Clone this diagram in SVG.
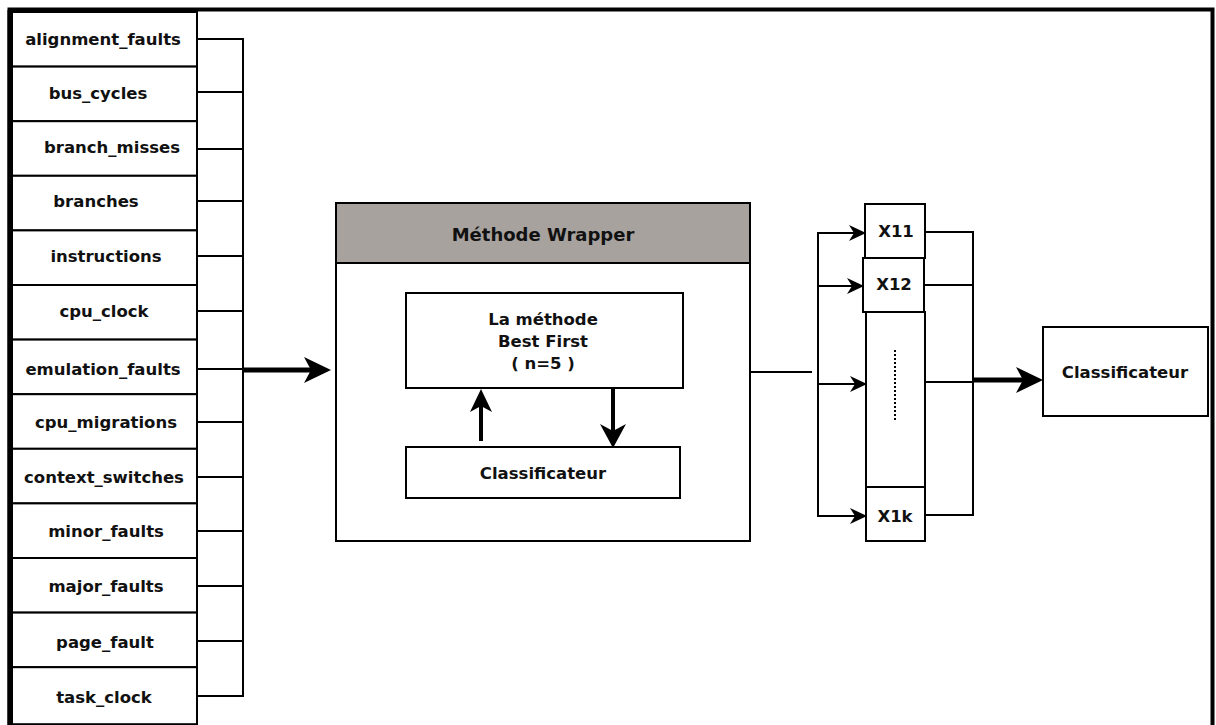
<svg xmlns="http://www.w3.org/2000/svg" width="1216" height="725" viewBox="0 0 1216 725">
<style>
text{font-family:"DejaVu Sans",sans-serif;font-weight:bold;font-size:16.5px;fill:#111;text-anchor:middle;dominant-baseline:central}
.h{font-size:18px}
.b{fill:#fff;stroke:#000;stroke-width:2}
.l{fill:none;stroke:#000;stroke-width:2}
.t{fill:none;stroke:#000;stroke-width:5}
.m{fill:none;stroke:#000;stroke-width:4}
.hd{fill:#000;stroke:none}
</style>
<rect width="1216" height="725" fill="#fff"/>
<path d="M9.5,725 V9.5 H1212.5 V725" fill="none" stroke="#000" stroke-width="4"/>
<line x1="10" y1="10" x2="10" y2="725" stroke="#000" stroke-width="5"/>
<g id="features">
<g id="f1"><rect class="b" x="12" y="12" width="185" height="54.6"/><text x="103" y="39">alignment_faults</text></g>
<g id="f2"><rect class="b" x="12" y="66.6" width="185" height="54.6"/><text x="98" y="93">bus_cycles</text></g>
<g id="f3"><rect class="b" x="12" y="121.2" width="185" height="54.6"/><text x="112" y="147">branch_misses</text></g>
<g id="f4"><rect class="b" x="12" y="175.8" width="185" height="54.6"/><text x="96" y="201">branches</text></g>
<g id="f5"><rect class="b" x="12" y="230.4" width="185" height="54.6"/><text x="106" y="256">instructions</text></g>
<g id="f6"><rect class="b" x="12" y="285" width="185" height="54.6"/><text x="104" y="311">cpu_clock</text></g>
<g id="f7"><rect class="b" x="12" y="339.6" width="185" height="54.6"/><text x="103" y="369">emulation_faults</text></g>
<g id="f8"><rect class="b" x="12" y="394.2" width="185" height="54.6"/><text x="106" y="422">cpu_migrations</text></g>
<g id="f9"><rect class="b" x="12" y="448.8" width="185" height="54.6"/><text x="104" y="477">context_switches</text></g>
<g id="f10"><rect class="b" x="12" y="503.4" width="185" height="54.6"/><text x="106" y="531">minor_faults</text></g>
<g id="f11"><rect class="b" x="12" y="558" width="185" height="54.6"/><text x="106" y="586">major_faults</text></g>
<g id="f12"><rect class="b" x="12" y="612.6" width="185" height="54.6"/><text x="105" y="642">page_fault</text></g>
<g id="f13"><rect class="b" x="12" y="667.2" width="185" height="57"/><text x="104" y="697">task_clock</text></g>
</g>
<g id="wrapper">
<rect class="b" x="336" y="203" width="414" height="338"/>
<rect x="336" y="203" width="414" height="60" fill="#a8a29f" stroke="#000" stroke-width="2"/>
<text class="h" x="543" y="234">Méthode Wrapper</text>
</g>
<g id="bestfirst"><rect class="b" x="406" y="293" width="277" height="95"/>
<text x="543" y="319">La méthode</text><text x="543" y="341">Best First</text><text x="543" y="363">( n=5 )</text></g>
<g id="classif-inner"><rect class="b" x="406" y="447" width="274" height="51"/><text x="543" y="473">Classificateur</text></g>
<g id="subsets">
<g id="x11"><rect class="b" x="865" y="204" width="60" height="54"/><text x="896" y="231">X11</text></g>
<g id="x12"><rect class="b" x="863" y="258" width="61" height="54"/><text x="894" y="284">X12</text></g>
<g id="xmid"><rect class="b" x="866" y="312" width="59" height="175"/><line x1="895" y1="350" x2="895" y2="421" stroke="#000" stroke-width="2" stroke-dasharray="2,2"/></g>
<g id="x1k"><rect class="b" x="866" y="487" width="59" height="54"/><text x="895" y="516">X1k</text></g>
</g>
<g id="classif"><rect class="b" x="1043" y="327" width="165" height="89"/><text x="1125" y="372">Classificateur</text></g>
<g id="connectors">
<path class="l" d="M197,39H243M197,92H243M197,149H243M197,201H243M197,256H243M197,311H243M197,369H243M197,422H243M197,477H243M197,531H243M197,586H243M197,641H243M197,696H243M243,38V697"/>
<line class="t" x1="243" y1="370" x2="312" y2="370"/>
<path class="hd" d="M331,370 L304,357 L311,370 L304,383 Z"/>
<line class="m" x1="481" y1="441" x2="481" y2="405"/>
<path class="hd" d="M481,389 L470,412 L481,406 L492,412 Z"/>
<line class="m" x1="613" y1="389" x2="613" y2="431"/>
<path class="hd" d="M613,448 L600,424 L613,431 L626,424 Z"/>
<path class="l" d="M750,372H812M818,233V516M817,233H855M817,286H853M817,384H856M817,516H856"/>
<path class="hd" d="M866,233 L849,225 L854,233 L849,241 Z"/>
<path class="hd" d="M864,286 L847,278 L852,286 L847,294 Z"/>
<path class="hd" d="M867,384 L850,376 L855,384 L850,392 Z"/>
<path class="hd" d="M867,516 L850,508 L855,516 L850,524 Z"/>
<path class="l" d="M925,232H973M924,285H973M925,382H973M925,515H973M973,231V516"/>
<line class="t" x1="973" y1="380" x2="1024" y2="380"/>
<path class="hd" d="M1043,380 L1016,367 L1023,380 L1016,393 Z"/>
</g>
</svg>
